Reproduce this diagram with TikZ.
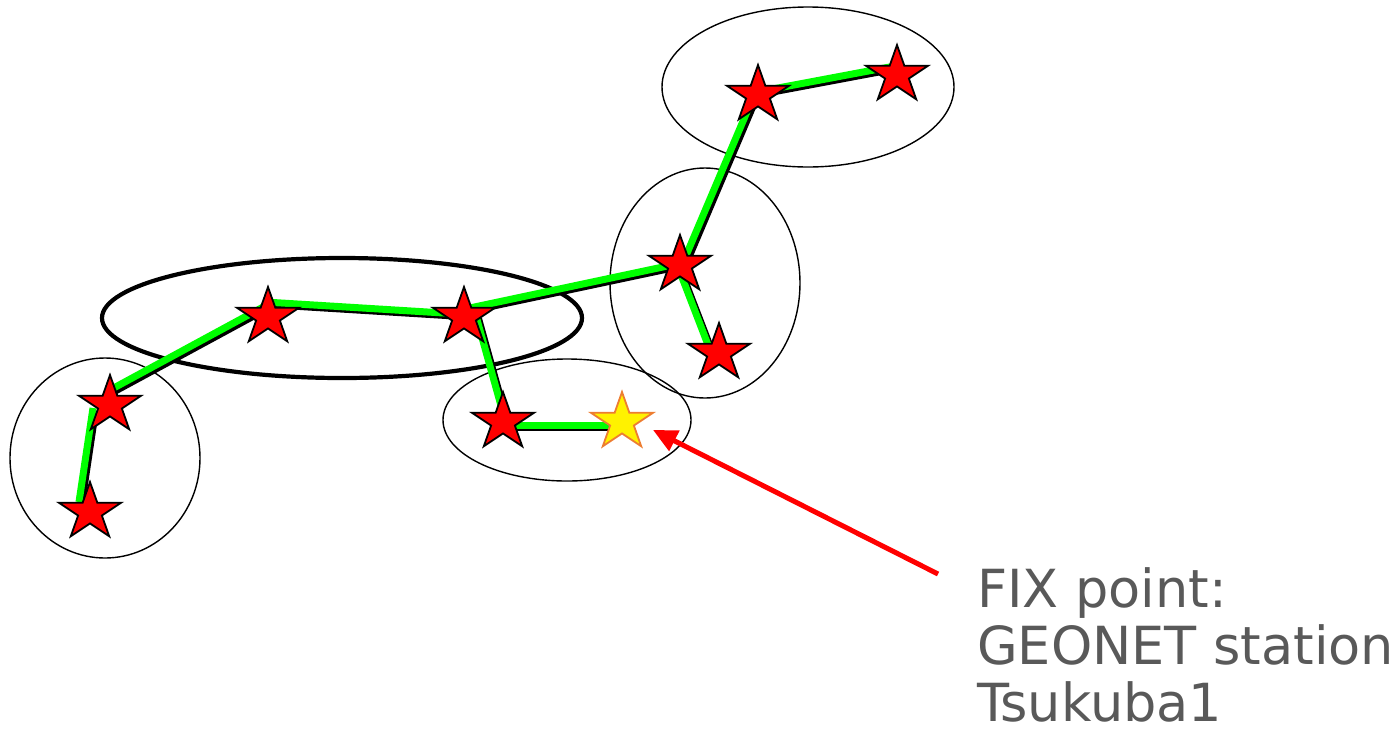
\documentclass[tikz,border=0pt]{standalone}
\usepackage{fontspec}
\setmainfont{DejaVu Sans}
\usetikzlibrary{shapes.geometric,arrows.meta}
\definecolor{linegreen}{RGB}{0,255,0}
\definecolor{txtgray}{RGB}{89,89,89}
\definecolor{starorange}{RGB}{237,125,49}
\newcommand\greenlinks{%
  \draw ([shift={(-11,-10)}]s2.center) -- ([shift={(-17,3)}]s1.center);
  \draw ([shift={(0,-15)}]s1.center) -- ([shift={(-3,-11)}]s3.center);
  \draw ([shift={(-3,-15)}]s3.center) -- ([shift={(-4,-3)}]s4.center);
  \draw ([shift={(1,-8)}]s4.center) -- ([shift={(-3,-1)}]s6.center);
  \draw ([shift={(12,-1)}]s4.center) -- ([shift={(2,-2)}]s5.center);
  \draw ([shift={(2,3)}]s5.center) -- ([shift={(-10,3)}]ys.center);
  \draw ([shift={(-2,2)}]s6.center) -- ([shift={(-9,-3)}]s7.center);
  \draw ([shift={(2,0)}]s6.center) -- ([shift={(-6,5)}]s8.center);
  \draw ([shift={(4,-4)}]s8.center) -- ([shift={(-2,-9)}]s9.center);
}
\begin{document}
\begin{tikzpicture}[x=1pt,y=-1pt,
  starbase/.style={star, star points=5, star point ratio=2.618, minimum size=60pt,
    inner sep=0pt, outer sep=0pt, xscale=1.09, line width=1.8pt},
  redstar/.style={starbase, fill=red, draw=black},
  yelstar/.style={starbase, fill=yellow, draw=starorange},
  thinell/.style={draw=black, line width=1.4pt},
  thickell/.style={draw=black, line width=4.2pt},
  redarrow/.style={draw=red, line width=5pt, -{Triangle[length=24pt,width=22pt]}},
  txt/.style={inner sep=0pt, anchor=base west, text=txtgray, text depth=0pt,
    font=\fontsize{52.5pt}{58pt}\selectfont}
]
\useasboundingbox (0,0) rectangle (1397,729);
% ellipses
\draw[thinell] (105,458) ellipse [x radius=95pt, y radius=100pt];
\draw[thickell] (342,318) ellipse [x radius=240pt, y radius=60pt];
\draw[thinell] (567,420) ellipse [x radius=124pt, y radius=61pt];
\draw[thinell] (705,283) ellipse [x radius=95pt, y radius=115pt];
\draw[thinell] (808,87) ellipse [x radius=146pt, y radius=80pt];
% star positions
\path (110,405) coordinate (c1) (90,512) coordinate (c2) (268,317) coordinate (c3)
      (464,317) coordinate (c4) (503,422) coordinate (c5) (622,422) coordinate (cy)
      (680,265) coordinate (c6) (719,353) coordinate (c7) (758,95) coordinate (c8)
      (897,75) coordinate (c9);
% invisible anchors for the lines
\foreach \n in {1,...,9} {\node[inner sep=0pt, minimum size=0pt] (s\n) at (c\n) {};}
\node[inner sep=0pt, minimum size=0pt] (ys) at (cy) {};
% lines with shadow
\begin{scope}[transform canvas={shift={(2.5pt,-2.5pt)}}, color=black, line width=7pt]
  \greenlinks
\end{scope}
\begin{scope}[color=linegreen, line width=7pt]
  \greenlinks
\end{scope}
% stars
\foreach \n in {1,...,9} {\node[redstar] (st\n) at (c\n) {};}
\node[yelstar] (sty) at (cy) {};
% arrow and label
\coordinate (arrtail) at (938,574);
\draw[redarrow] (arrtail) -- ([shift={(31,8)}]sty.center);
\node[txt] (t1) at (977,607) {FIX point:};
\node[txt] (t2) at (977,664) {GEONET station};
\node[txt] (t3) at (977,721) {Tsukuba1};
\end{tikzpicture}
\end{document}
